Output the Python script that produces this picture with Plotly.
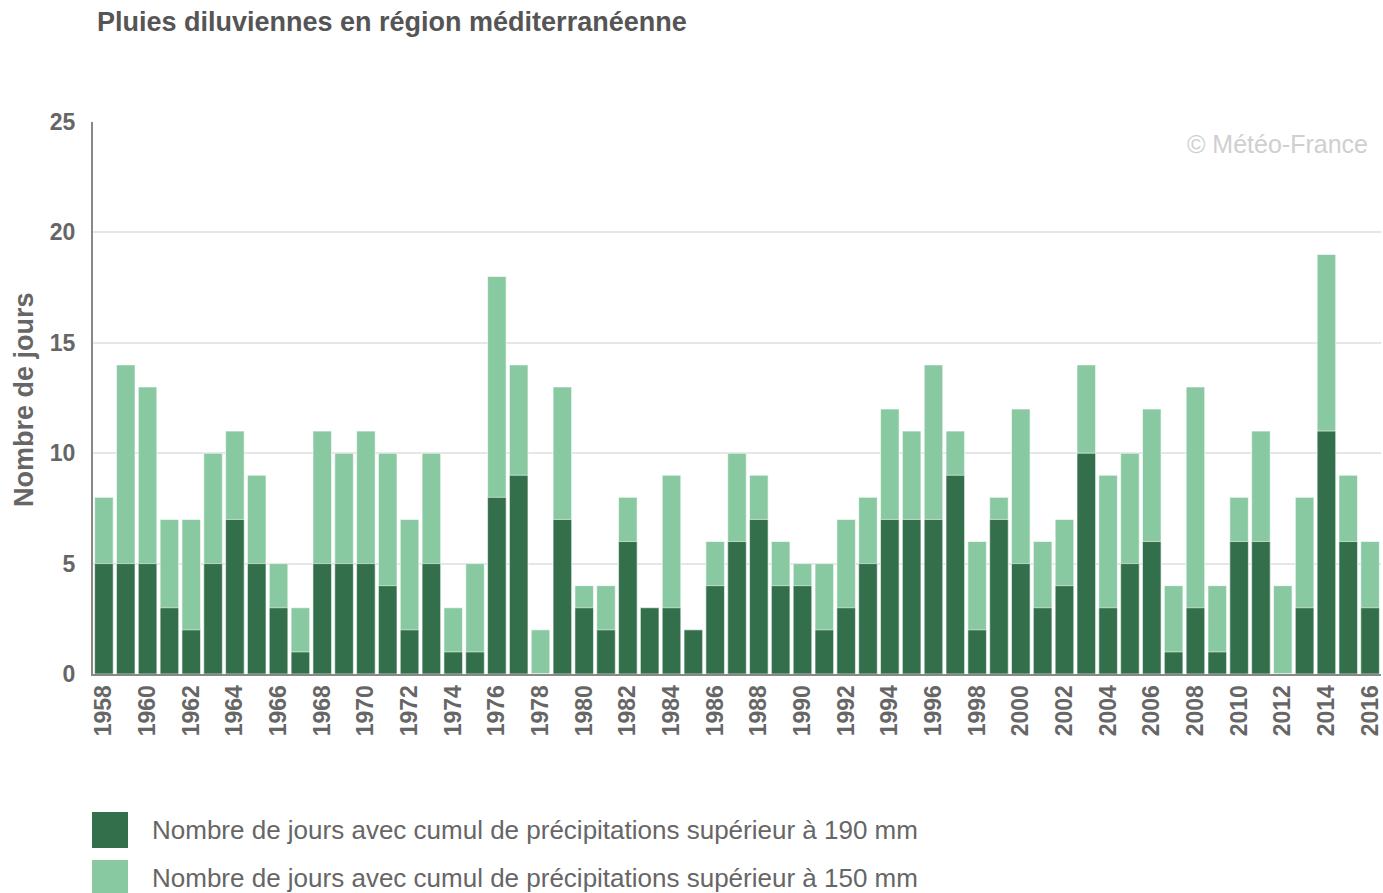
import plotly.graph_objects as go

years = list(range(1958, 2017))
days_190 = [5, 5, 5, 3, 2, 5, 7, 5, 3, 1,
            5, 5, 5, 4, 2, 5, 1, 1, 8, 9,
            0, 7, 3, 2, 6, 3, 3, 2, 4, 6,
            7, 4, 4, 2, 3, 5, 7, 7, 7, 9,
            2, 7, 5, 3, 4, 10, 3, 5, 6, 1,
            3, 1, 6, 6, 0, 3, 11, 6, 3]
days_150 = [8, 14, 13, 7, 7, 10, 11, 9, 5, 3,
            11, 10, 11, 10, 7, 10, 3, 5, 18, 14,
            2, 13, 4, 4, 8, 3, 9, 2, 6, 10,
            9, 6, 5, 5, 7, 8, 12, 11, 14, 11,
            6, 8, 12, 6, 7, 14, 9, 10, 12, 4,
            13, 4, 8, 11, 4, 8, 19, 9, 6]
y_ticks = [0, 5, 10, 15, 20, 25]
x_ticks = years[::2]

title_text = "Pluies diluviennes en région méditerranéenne"
ytitle_text = "Nombre de jours"
label_190 = "Nombre de jours avec cumul de précipitations supérieur à 190 mm"
label_150 = "Nombre de jours avec cumul de précipitations supérieur à 150 mm"
watermark = "© Météo-France"

DARK = "#336f4a"
LIGHT = "#89c9a2"
GREY = "#666666"
ARIAL = "Liberation Sans, Arial, sans-serif"

fig = go.Figure()
fig.add_trace(go.Bar(x=years, y=days_150, name=label_150, marker=dict(color=LIGHT, line=dict(color="rgba(255,255,255,0.6)", width=1))))
fig.add_trace(go.Bar(x=years, y=days_190, name=label_190, marker=dict(color=DARK, line=dict(color="rgba(255,255,255,0.6)", width=1))))

fig.update_layout(
    width=1383, height=893,
    barmode="overlay", bargap=0.15,
    showlegend=False,
    plot_bgcolor="white", paper_bgcolor="white",
    margin=dict(l=93, r=0, t=122, b=219),
    title=dict(text="<b>" + title_text + "</b>", xref="container", yref="container",
               x=97 / 1383, xanchor="left", y=1 - 22 / 893, yanchor="middle",
               font=dict(family=ARIAL, size=27, color="#555555")),
    xaxis=dict(range=[1957.5, 2016.5], tickmode="array", tickvals=x_ticks,
               ticktext=["<b>%d</b>" % y for y in x_ticks], tickangle=-90,
               showline=True, linecolor="#888888", linewidth=2, showgrid=False,
               ticks="", ticklabelstandoff=0, ticklabeloverflow="allow",
               tickfont=dict(family=ARIAL, size=23, color=GREY), fixedrange=True),
    yaxis=dict(range=[0, 25], tickmode="array", tickvals=y_ticks,
               ticktext=["<b>%d</b>" % v for v in y_ticks],
               showline=True, linecolor="#888888", linewidth=2,
               showgrid=True, gridcolor="#e6e6e6", gridwidth=2, zeroline=False,
               ticks="", ticklabelstandoff=11,
               tickfont=dict(family=ARIAL, size=23, color=GREY), fixedrange=True),
)

fig.add_annotation(text="<b>" + ytitle_text + "</b>", textangle=-90,
                   xref="paper", yref="paper", x=0, y=(674 - 400) / 552,
                   xanchor="center", yanchor="middle", xshift=-69, showarrow=False,
                   font=dict(family=ARIAL, size=27, color=GREY))
fig.add_annotation(text=watermark, xref="paper", yref="paper", x=1, y=1,
                   xanchor="right", yanchor="middle", xshift=-11, yshift=-22,
                   showarrow=False, font=dict(family=ARIAL, size=25, color="#cfcfcf"))

# legend drawn as boxes + labels
for color, label, cy in [(DARK, label_190, 830), (LIGHT, label_150, 878)]:
    off = 674 - cy
    fig.add_shape(type="rect", xref="paper", yref="paper", xsizemode="pixel", ysizemode="pixel",
                  xanchor=0, yanchor=0, x0=-1, x1=35, y0=off - 18, y1=off + 18,
                  fillcolor=color, line=dict(width=0))
    fig.add_annotation(text=label, xref="paper", yref="paper", x=0, y=0,
                       xanchor="left", yanchor="middle", xshift=57, yshift=off,
                       showarrow=False, font=dict(family=ARIAL, size=26, color=GREY))

fig.write_html("out.html", config={"displayModeBar": False},
               post_script="document.body.style.margin='0';document.body.style.padding='0';document.body.style.overflow='hidden';")
